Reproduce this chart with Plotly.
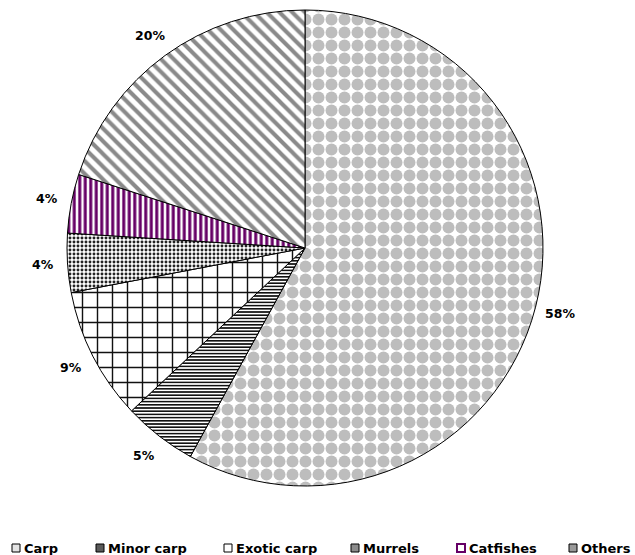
import math
import plotly.graph_objects as go

# Catch composition by group (percent of total)
groups = ["Carp", "Minor carp", "Exotic carp", "Murrels", "Catfishes", "Others"]
shares = [58, 5, 9, 4, 4, 20]

W, H = 635, 555
cx, cy, r = 305, 248, 238          # pie centre and radius, pixels
label_r = 263                      # radius at which percent labels sit

patterns = [
    dict(shape=".", fgcolor="#bdbdbd", bgcolor="white", size=13, solidity=0.66),
    dict(shape="-", fgcolor="#111111", bgcolor="white", size=3.2, solidity=0.5),
    dict(shape="+", fgcolor="#111111", bgcolor="white", size=15, solidity=0.18),
    dict(shape=".", fgcolor="#222222", bgcolor="white", size=4, solidity=0.42),
    dict(shape="|", fgcolor="#660066", bgcolor="white", size=5.5, solidity=0.55),
    dict(shape="\\", fgcolor="#8a8a8a", bgcolor="white", size=9, solidity=0.45),
]

fig = go.Figure(go.Pie(
    labels=groups,
    values=shares,
    sort=False,
    direction="clockwise",
    rotation=0,
    textinfo="none",
    hoverinfo="label+percent",
    showlegend=False,
    marker=dict(
        colors=["white"] * len(groups),
        line=dict(color="black", width=1),
        pattern=dict(
            shape=[p["shape"] for p in patterns],
            fgcolor=[p["fgcolor"] for p in patterns],
            bgcolor=[p["bgcolor"] for p in patterns],
            size=[p["size"] for p in patterns],
            solidity=[p["solidity"] for p in patterns],
        ),
    ),
    domain=dict(
        x=[(cx - r) / W, (cx + r) / W],
        y=[1 - (cy + r) / H, 1 - (cy - r) / H],
    ),
))

# Percent labels just outside each slice, at its mid angle
total = sum(shares)
annotations = []
cum = 0.0
for v in shares:
    mid = (cum + v / 2) / total * 2 * math.pi
    cum += v
    px = cx + label_r * math.sin(mid)
    py = cy - label_r * math.cos(mid)
    annotations.append(dict(
        x=px / W, y=1 - py / H, xref="paper", yref="paper",
        text=f"{v / total * 100:.0f}%", showarrow=False,
        xanchor="center", yanchor="middle",
        font=dict(family="DejaVu Sans", size=12.5, color="black", weight="bold"),
    ))

# Legend row along the bottom: small key square followed by the group name
key_left = [12, 96, 224, 351, 457, 569]   # left edge of each key square, px
key_fill = ["#e4e4e4", "#5a5a5a", "white", "#8c8c8c", "white", "#9a9a9a"]
key_line = ["black", "black", "black", "black", "#660066", "black"]
key_lw = [1, 1, 1, 1, 2, 1]
key_y, key_s = 548, 8
shapes = []
for name, xl, fc, lc, lw in zip(groups, key_left, key_fill, key_line, key_lw):
    shapes.append(dict(
        type="rect", xref="paper", yref="paper",
        x0=xl / W, x1=(xl + key_s) / W,
        y0=1 - (key_y + key_s / 2) / H, y1=1 - (key_y - key_s / 2) / H,
        fillcolor=fc, line=dict(color=lc, width=lw),
    ))
    annotations.append(dict(
        x=(xl + key_s + 2) / W, y=1 - key_y / H, xref="paper", yref="paper",
        text=name, showarrow=False, xanchor="left", yanchor="middle",
        font=dict(family="DejaVu Sans", size=13, color="black", weight="bold"),
    ))

fig.update_layout(
    width=W, height=H,
    margin=dict(l=0, r=0, t=0, b=0),
    paper_bgcolor="white",
    plot_bgcolor="white",
    annotations=annotations,
    shapes=shapes,
)

fig.write_html("out.html")
